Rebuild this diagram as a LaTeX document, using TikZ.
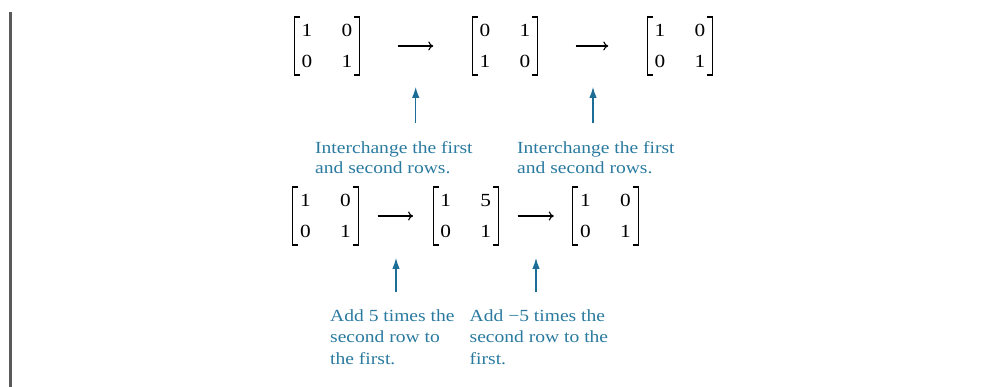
\documentclass[tikz,border=0pt]{standalone}
\usepackage{fontspec}
\setmainfont{Liberation Serif}[FakeStretch=1.15]
\usetikzlibrary{arrows.meta}
\definecolor{lbl}{RGB}{42,122,160}
\definecolor{arr}{RGB}{28,110,150}
\definecolor{bar}{RGB}{90,90,90}
\newcommand\drawbrk[1]{%
  \draw[brk] ([xshift=5.5pt]#1.north west) -| (#1.south west) -- ([xshift=5.5pt]#1.south west);
  \draw[brk] ([xshift=-5.5pt]#1.north east) -| (#1.south east) -- ([xshift=-5.5pt]#1.south east);}
\newcommand\mrow[2]{#1\hspace{29.4pt}#2}
\begin{document}
\begin{tikzpicture}[x=1pt,y=-1pt,
  mat/.style={inner sep=0pt, minimum width=65pt, minimum height=57.5pt, align=center,
    font=\fontsize{18.5}{31.7}\selectfont},
  brk/.style={draw=black, line width=1.2pt, line join=miter},
  op/.style={draw=black, line width=1.1pt, -{To[length=5pt,width=9pt]}},
  up/.style={draw=arr, line width=1.1pt, -{Latex[length=11pt,width=7.5pt]}},
  lbltop/.style={inner sep=0pt, anchor=north west, align=left, text=lbl,
    font=\fontsize{17}{20}\selectfont},
  lblbot/.style={inner sep=0pt, anchor=north west, align=left, text=lbl,
    font=\fontsize{17}{21.5}\selectfont}]
\useasboundingbox (0,0) rectangle (985,387);
\fill[bar] (9.3,12) rectangle (12,387);
% top row
\node[mat] (A1) at (327,46) {\mrow{1}{0}\\\mrow{0}{1}};
\node[mat] (A2) at (505,46) {\mrow{0}{1}\\\mrow{1}{0}};
\node[mat] (A3) at (680,46) {\mrow{1}{0}\\\mrow{0}{1}};
\drawbrk{A1}\drawbrk{A2}\drawbrk{A3}
\draw[op, shorten <=38pt, shorten >=39pt] (A1) -- (A2);
\draw[op, shorten <=38pt, shorten >=39pt] (A2) -- (A3);
\coordinate (ta1) at (415.7,87);
\coordinate (sa1) at (415.7,122.7);
\coordinate (ta2) at (593,87);
\coordinate (sa2) at (593,122.7);
\draw[up] (sa1) -- (ta1);
\draw[up] (sa2) -- (ta2);
\node[lbltop] (L1) at (315,141.7) {Interchange the first\\and second rows.};
\node[lbltop] (L2) at (517,141.7) {Interchange the first\\and second rows.};
% bottom row
\node[mat] (B1) at (325.5,216) {\mrow{1}{0}\\\mrow{0}{1}};
\node[mat] (B2) at (465.8,216) {\mrow{1}{5}\\\mrow{0}{1}};
\node[mat] (B3) at (605.5,216) {\mrow{1}{0}\\\mrow{0}{1}};
\drawbrk{B1}\drawbrk{B2}\drawbrk{B3}
\draw[op, shorten <=19.3pt, shorten >=20pt] (B1) -- (B2);
\draw[op, shorten <=19pt, shorten >=19pt] (B2) -- (B3);
\coordinate (tb1) at (396,258);
\coordinate (sb1) at (396,292);
\coordinate (tb2) at (536,258);
\coordinate (sb2) at (536,292);
\draw[up] (sb1) -- (tb1);
\draw[up] (sb2) -- (tb2);
\node[lblbot] (L3) at (330,309.1) {Add 5 times the\\second row to\\the first.};
\node[lblbot] (L4) at (469.5,309.1) {Add −5 times the\\second row to the\\first.};
\end{tikzpicture}
\end{document}
